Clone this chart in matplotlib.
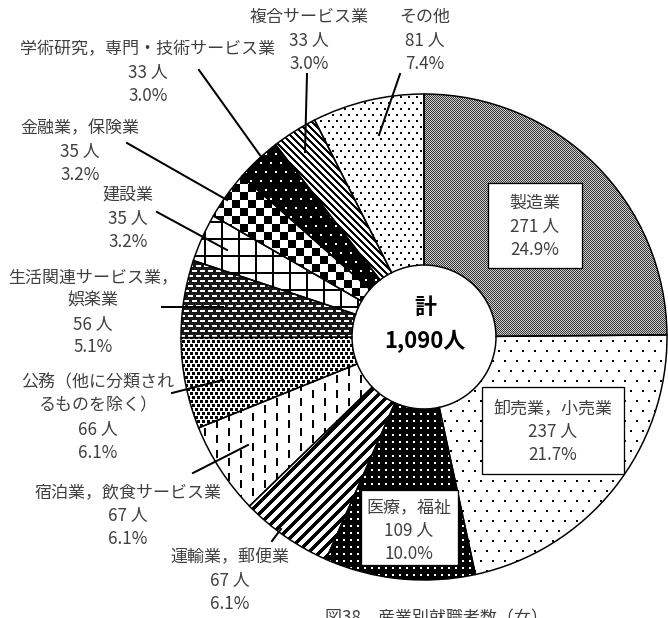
import numpy as np
import matplotlib
matplotlib.use('Agg')
import matplotlib.pyplot as plt
from matplotlib.patches import Rectangle

plt.rcParams['font.family'] = ['Noto Sans CJK JP', 'DejaVu Sans']

# women hired, by industry
industries = ['製造業', '卸売業，小売業', '医療，福祉', '運輸業，郵便業',
              '宿泊業，飲食サービス業', '公務（他に分類され\nるものを除く）',
              '生活関連サービス業，\n娯楽業', '建設業', '金融業，保険業',
              '学術研究，専門・技術サービス業', '複合サービス業', 'その他']
workers = [271, 237, 109, 67, 67, 66, 56, 35, 35, 33, 33, 81]
title = '図38　産業別就職者数（女）'

W, H = 668, 618
TXT = '#404040'
total = sum(workers)

def py(y):
    # pixel row (top down) -> data y
    return H - y

# texture tiles on the pixel grid, 0 = black, 1 = white
yy, xx = np.mgrid[0:H, 0:W]

def dots(px, pr, size, ink, paper, stagger=True):
    r = yy // pr
    shift = (r % 2) * (px // 2) if stagger else 0
    on = ((xx + shift) % px < size) & (yy % pr < size)
    return np.where(on, ink, paper).astype(float)

def tex_checker_fine():
    return np.where((xx + yy) % 2 == 0, 0.22, 0.8)

def tex_slash(period, w):
    return np.where((xx + yy) % period < w, 0.0, 1.0)

def tex_backslash(period, w):
    return np.where((xx - yy) % period < w, 0.0, 1.0)

def tex_dashes():
    col = xx // 12
    on = (xx % 12 < 2) & ((yy + (col % 2) * 7) % 15 < 8)
    return np.where(on, 0.0, 1.0)

def tex_bricks():
    r = yy // 4
    on = (yy % 4 < 3) & ((xx + (r % 2) * 3) % 5 < 3)
    return np.where(on, 0.0, 1.0)

def tex_ovals():
    r = yy // 5
    on = (yy % 5 < 2) & ((xx + (r % 2) * 4) % 8 < 5)
    return np.where(on, 1.0, 0.1)

def tex_grid():
    return np.where((xx % 17 < 2) | (yy % 17 < 2), 0.0, 1.0)

def tex_checker(s):
    return np.where((xx // s + yy // s) % 2 == 0, 0.0, 1.0)

textures = [
    tex_checker_fine(),
    dots(12, 10, 2, 0.0, 1.0),
    dots(7, 7, 2, 1.0, 0.0, stagger=False),
    tex_slash(11, 5),
    tex_dashes(),
    tex_bricks(),
    tex_ovals(),
    tex_grid(),
    tex_checker(8),
    dots(10, 9, 2, 1.0, 0.0),
    tex_backslash(7, 3),
    dots(8, 6, 2, 0.0, 1.0),
]

# label anchors: (centre x, first line y) in pixels
label_pos = [(535, 203), (553, 408), (409, 507), (230, 557), (128, 492),
             (98, 382), (93, 277), (128, 195), (80, 128), (148, 49),
             (309, 17), (425, 17)]
boxes = {0: (488, 183, 582, 268), 1: (482, 387, 624, 474), 2: (361, 490, 458, 565)}
leaders = {3: ((272, 541), (281, 529)), 4: ((193, 473), (248, 445)),
           5: ((172, 393), (223, 380)), 6: ((162, 307), (223, 307)),
           7: ((157, 212), (227, 250)), 8: ((127, 143), (227, 200)),
           9: ((199, 70), (262, 158)), 10: ((307, 74), (305, 152)),
           11: ((400, 74), (379, 135))}
step = 23.5

fig = plt.figure(figsize=(W / 72, H / 72), dpi=72)
ax = fig.add_axes([0, 0, 1, 1])

wedges, _ = ax.pie(workers, startangle=90, counterclock=False,
                   center=(424, py(337)), radius=243,
                   wedgeprops=dict(width=171, facecolor='none',
                                   edgecolor='black', linewidth=1.5))

for w, tex in zip(wedges, textures):
    im = ax.imshow(tex, cmap='gray', vmin=0, vmax=1, extent=(0, W, 0, H),
                   interpolation='nearest', zorder=1)
    im.set_clip_path(w)
    w.set_zorder(2)

for i, (name, v) in enumerate(zip(industries, workers)):
    lines = name.split('\n') + [f'{v} 人', f'{v / total * 100:.1f}%']
    x0, y0 = label_pos[i]
    if i in boxes:
        l, t, r, b = boxes[i]
        ax.add_patch(Rectangle((l, py(b)), r - l, b - t, facecolor='white',
                               edgecolor='black', linewidth=1.3, zorder=3))
    for k, s in enumerate(lines):
        ax.text(x0, py(y0 + k * step), s, ha='center', va='center',
                fontsize=17, color=TXT, zorder=4)
    if i in leaders:
        (xa, ya), (xb, yb) = leaders[i]
        ax.plot([xa, xb], [py(ya), py(yb)], color='black', lw=2, zorder=3)

# total in the hole
ax.text(425, py(307), '計', ha='center', va='center', fontsize=22,
        fontweight='bold', color='black')
ax.text(425, py(342), f'{total:,}人', ha='center', va='center', fontsize=22,
        fontweight='bold', color='black')

ax.text(436, py(618), title, ha='center', va='center', fontsize=17, color=TXT)

ax.set_xlim(0, W)
ax.set_ylim(0, H)
ax.set_aspect('equal')
ax.axis('off')

fig.savefig('out.png', dpi=72)
